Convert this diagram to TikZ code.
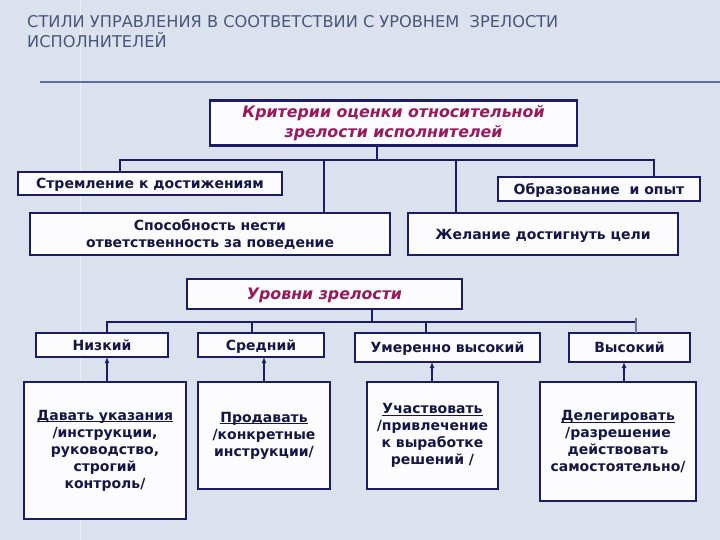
\documentclass[tikz,border=0pt]{standalone}
\usepackage{fontspec}
\setmainfont{DejaVu Sans}
\usetikzlibrary{arrows.meta}
\definecolor{bg}{RGB}{220,226,237}
\definecolor{navy}{RGB}{28,28,100}
\definecolor{navytext}{RGB}{22,22,70}
\definecolor{magtext}{RGB}{152,26,92}
\definecolor{boxfill}{RGB}{252,252,255}
\definecolor{titlecol}{RGB}{72,86,125}
\definecolor{rulecol}{RGB}{92,110,160}
\newcommand\ulword[1]{\setbox0\hbox{#1}\rlap{\rule[-2pt]{\wd0}{0.9pt}}\box0}
\tikzset{
  box/.style={draw=navy, line width=2.2pt, fill=boxfill, inner sep=0pt, outer sep=0pt,
    align=center, text=navytext, font=\fontsize{14}{17}\selectfont\bfseries},
  one/.style={text height=11.5pt, text depth=1.3pt},
  headbox/.style={box, text=magtext, font=\fontsize{15.8}{19.5}\selectfont\bfseries\itshape},
  conn/.style={draw=navy, line width=2.2pt},
  arr/.style={draw=navy, line width=1.8pt, -{Latex[length=6pt,width=5pt]}}
}
\begin{document}
\begin{tikzpicture}[x=1pt,y=-1pt]
\fill[bg] (0,0) rectangle (720,540);
\useasboundingbox (0,0) rectangle (720,540);
\draw[white, opacity=0.5, line width=1pt] (80,0) -- (80,540);
% title
\node[anchor=base west, align=left, inner sep=0pt, text=titlecol,
  font=\fontsize{16.2}{20}\selectfont] (title) at (27,48)
  {СТИЛИ УПРАВЛЕНИЯ В СООТВЕТСТВИИ С УРОВНЕМ \ ЗРЕЛОСТИ\\ИСПОЛНИТЕЛЕЙ};
\coordinate (r1) at (40,82);
\coordinate (r2) at (720,82);
\draw[rulecol, line width=2pt] (r1) -- (r2);
% upper tree
\node[headbox, minimum width=367pt, minimum height=45pt] (crit) at (393.5,123)
  {Критерии оценки относительной\\зрелости исполнителей};
\node[box, one, minimum width=264pt, minimum height=23pt] (strem) at (150,183.5) {Стремление к достижениям};
\node[box, one, minimum width=202pt, minimum height=24pt] (obr) at (599,189) {Образование \ и опыт};
\node[box, minimum width=360pt, minimum height=42pt] (spos) at (210,234) {Способность нести\\ответственность за поведение};
\node[box, one, minimum width=270pt, minimum height=42pt] (zhel) at (543,234) {Желание достигнуть цели};
\coordinate (h0) at (377,160);
\coordinate (hL) at (120,160);
\coordinate (hR) at (654,160);
\coordinate (h2) at (324,160);
\coordinate (h3) at (456,160);
\draw[conn] (crit.south -| h0) -- (h0);
\draw[conn] (hL |- strem.north) -- (hL) -- (hR) -- (hR |- obr.north);
\draw[conn] (h2) -- (h2 |- spos.north);
\draw[conn] (h3) -- (h3 |- zhel.north);
% lower tree
\node[headbox, one, minimum width=275pt, minimum height=30pt] (ur) at (324.5,294) {Уровни зрелости};
\node[box, one, minimum width=132pt, minimum height=24pt] (niz) at (102,345) {Низкий};
\node[box, one, minimum width=126pt, minimum height=24pt] (sred) at (261,345) {Средний};
\node[box, one, minimum width=185pt, minimum height=29pt] (umer) at (447.5,347.5) {Умеренно высокий};
\node[box, one, minimum width=121pt, minimum height=29pt] (vys) at (629.5,347.5) {Высокий};
\coordinate (g0) at (372,322);
\coordinate (gL) at (107,322);
\coordinate (g2) at (252,322);
\coordinate (g3) at (426,322);
\coordinate (gR) at (636,322);
\coordinate (gRt) at (636,318);
\draw[conn] (ur.south -| g0) -- (g0);
\draw[conn] (gL |- niz.north) -- (gL) -- (gR);
\draw[conn] (g2) -- (g2 |- sred.north);
\draw[conn] (g3) -- (g3 |- umer.north);
\draw[draw=navy!55!bg, line width=1.4pt] (gRt) -- (gR |- vys.north);
% bottom boxes
\node[box, minimum width=162pt, minimum height=137pt] (dav) at (105,450.5)
  {\ulword{Давать указания}\\/инструкции,\\руководство,\\строгий\\контроль/};
\node[box, minimum width=132pt, minimum height=107pt] (prod) at (264,435.5)
  {\ulword{Продавать}\\/конкретные\\инструкции/};
\node[box, minimum width=131pt, minimum height=107pt] (uch) at (432.5,435.5)
  {\ulword{Участвовать}\\/привлечение\\к выработке\\решений /};
\node[box, minimum width=156pt, minimum height=119pt] (del) at (618,441.5)
  {\ulword{Делегировать}\\/разрешение\\действовать\\самостоятельно/};
\coordinate (a1) at (107,0);
\coordinate (a2) at (264,0);
\coordinate (a3) at (432,0);
\coordinate (a4) at (624,0);
\draw[arr] (a1 |- dav.north) -- (a1 |- niz.south);
\draw[arr] (a2 |- prod.north) -- (a2 |- sred.south);
\draw[arr] (a3 |- uch.north) -- (a3 |- umer.south);
\draw[arr] (a4 |- del.north) -- (a4 |- vys.south);
\end{tikzpicture}
\end{document}
